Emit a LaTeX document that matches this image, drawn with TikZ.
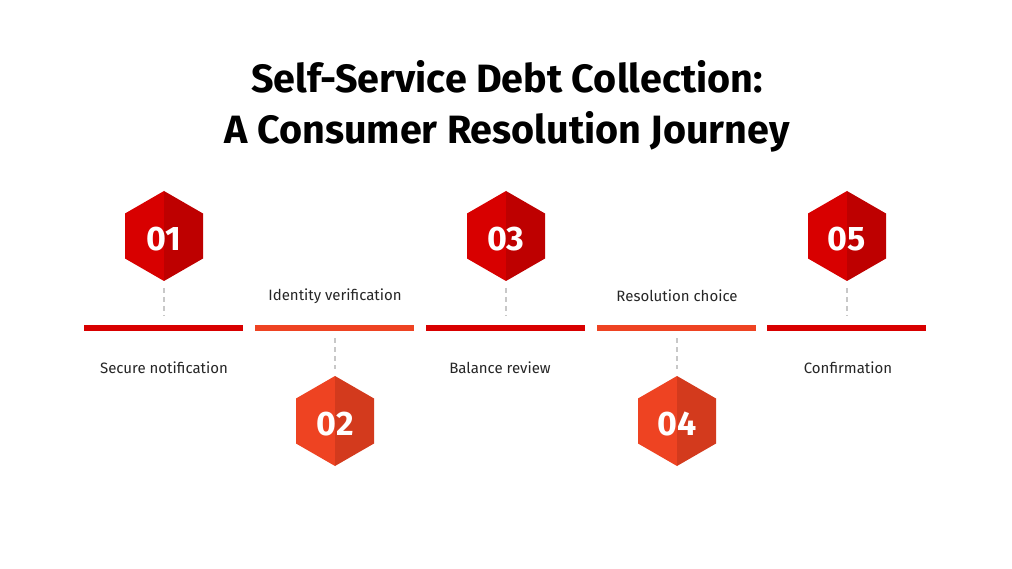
\documentclass[tikz,border=0pt]{standalone}
\usepackage{fontspec}
\setmainfont{Fira Sans}
\definecolor{redL}{HTML}{D80000}
\definecolor{redR}{HTML}{BE0000}
\definecolor{orL}{HTML}{EE4322}
\definecolor{orR}{HTML}{D33A1D}
\definecolor{dashgray}{HTML}{C8C8C8}
\begin{document}
\begin{tikzpicture}[x=1pt,y=-1pt,
  lbl/.style={font=\fontsize{15}{18}\selectfont, text=black!85},
  num/.style={font=\fontsize{34}{36}\selectfont\bfseries, text=white},
  bar/.style={line width=6pt},
  conn/.style={draw=dashgray, line width=1.6pt, dash pattern=on 5pt off 4pt},
  ttl/.style={font=\fontsize{39.5}{51}\selectfont\bfseries, align=center}]
\useasboundingbox[fill=white] (0,0) rectangle (1012,569);
% hexagon macro
\newcommand{\hexa}[5]{% name, x, y, left color, right color
  \fill[#4] (#2,#3-45) -- (#2-39,#3-22.5) -- (#2-39,#3+22.5) -- (#2,#3+45) -- cycle;
  \fill[#5] (#2,#3-45) -- (#2+39,#3-22.5) -- (#2+39,#3+22.5) -- (#2,#3+45) -- cycle;
  \coordinate (#1top) at (#2,#3-52);
  \coordinate (#1bot) at (#2,#3+52);
}
\node[ttl] (title) at (507,106) {Self-Service Debt Collection:\\A Consumer Resolution Journey};
% bars
\draw[bar, color=redL] (84,328) coordinate (b1a) -- (243,328) coordinate (b1b);
\draw[bar, color=orL] (255,328) coordinate (b2a) -- (414,328) coordinate (b2b);
\draw[bar, color=redL] (426,328) coordinate (b3a) -- (585,328) coordinate (b3b);
\draw[bar, color=orL] (597,328) coordinate (b4a) -- (756,328) coordinate (b4b);
\draw[bar, color=redL] (767,328) coordinate (b5a) -- (926,328) coordinate (b5b);
% hexagons
\hexa{h1}{164}{236}{redL}{redR}
\hexa{h2}{335}{421}{orL}{orR}
\hexa{h3}{506}{236}{redL}{redR}
\hexa{h4}{677}{421}{orL}{orR}
\hexa{h5}{847}{236}{redL}{redR}
\node[num] (n1) at (164,239) {01};
\node[num] (n2) at (335,424) {02};
\node[num] (n3) at (506,239) {03};
\node[num] (n4) at (677,424) {04};
\node[num] (n5) at (847,239) {05};
% connector endpoints
\coordinate (c1) at (164,316);
\coordinate (c2) at (335,338);
\coordinate (c3) at (506,316);
\coordinate (c4) at (677,338);
\coordinate (c5) at (847,316);
\draw[conn] (h1bot) -- (c1);
\draw[conn] (c2) -- (h2top);
\draw[conn] (h3bot) -- (c3);
\draw[conn] (c4) -- (h4top);
\draw[conn] (h5bot) -- (c5);
% labels
\node[lbl] (l1) at (164,368) {Secure notification};
\node[lbl] (l2) at (335,296) {Identity verification};
\node[lbl] (l3) at (500,368) {Balance review};
\node[lbl] (l4) at (677,296) {Resolution choice};
\node[lbl] (l5) at (848,368) {Confirmation};
\end{tikzpicture}
\end{document}
